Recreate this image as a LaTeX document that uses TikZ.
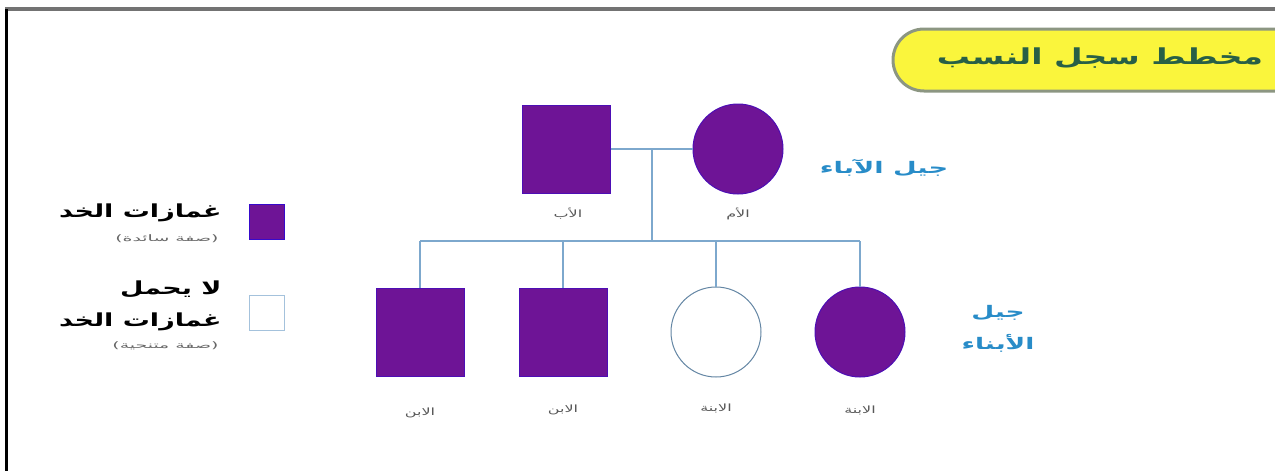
\documentclass[tikz,border=0pt]{standalone}
\usepackage{fontspec}
\TeXXeTstate=1
\newfontfamily\arabicfont[Script=Arabic]{DejaVu Sans}
\definecolor{purp}{RGB}{110,20,150}
\definecolor{linkc}{RGB}{125,168,205}
\definecolor{genblue}{RGB}{40,140,200}
\definecolor{titlegreen}{RGB}{40,95,70}
\definecolor{pillyellow}{RGB}{250,245,60}
\definecolor{pillborder}{RGB}{140,150,130}
\tikzset{
  aff/.style={draw=purp!70!blue, line width=1pt, fill=purp},
  unaff/.style={draw=linkc!80!black, line width=1pt, fill=white},
  sq/.style={rectangle, minimum size=88pt, inner sep=0pt},
  circ/.style={circle, minimum size=90pt, inner sep=0pt},
  link/.style={draw=linkc, line width=2pt},
  lab/.style={font=\arabicfont\fontsize{10}{12}\selectfont, text=black!65},
  gen/.style={font=\arabicfont\bfseries\fontsize{16}{18}\selectfont, text=genblue},
  legbig/.style={font=\arabicfont\bfseries\fontsize{18}{22}\selectfont, text=black, anchor=east},
  legsmall/.style={font=\arabicfont\fontsize{9}{10}\selectfont, text=black!60, anchor=east},
}
\begin{document}
\begin{tikzpicture}[x=1pt,y=-1pt]
\useasboundingbox (0,0) rectangle (1275,471);
% frame
\draw[draw=black!55, line width=4pt] (5,9) -- (1275,9);
\draw[draw=black, line width=3pt] (6.5,9) -- (6.5,471);
% title pill
\draw[draw=pillborder, line width=3pt, fill=pillyellow, rounded corners=31pt] (893,29) rectangle (1310,91);
\node[font=\arabicfont\bfseries\fontsize{22}{24}\selectfont, text=titlegreen] (title) at (1100,58) {\scalebox{1.5}[1]{\beginR مخطط سجل النسب\endR}};
% parents
\node[sq, aff] (father) at (566,149) {};
\node[circ, aff] (mother) at (738,149) {};
\node[lab] (flab) at (568,214) {\scalebox{1.6}[1]{\beginR الأب\endR}};
\node[lab] (mlab) at (738,214) {\scalebox{1.6}[1]{\beginR الأم\endR}};
% children
\node[sq, aff] (c1) at (420,332) {};
\node[sq, aff] (c2) at (563,332) {};
\node[circ, unaff] (c3) at (716,332) {};
\node[circ, aff] (c4) at (860,332) {};
\node[lab] (l1) at (420,413) {\scalebox{1.6}[1]{\beginR الابن\endR}};
\node[lab] (l2) at (563,410) {\scalebox{1.6}[1]{\beginR الابن\endR}};
\node[lab] (l3) at (716,408) {\scalebox{1.6}[1]{\beginR الابنة\endR}};
\node[lab] (l4) at (860,410) {\scalebox{1.6}[1]{\beginR الابنة\endR}};
% connectors
\coordinate (mid) at (652,149);
\coordinate (drop) at (652,241);
\coordinate (s1) at (420,241);
\coordinate (s2) at (563,241);
\coordinate (s3) at (716,241);
\coordinate (s4) at (860,241);
\draw[link] (father.east) -- (mother.west);
\draw[link] (mid) -- (drop);
\draw[link] (s1) -- (s4);
\draw[link] (s1) -- (c1.north);
\draw[link] (s2) -- (c2.north);
\draw[link] (s3) -- (c3.north);
\draw[link] (s4) -- (c4.north);
% generation labels
\node[gen] (pgen) at (884,168) {\scalebox{1.7}[1]{\beginR جيل الآباء\endR}};
\node[gen] (cgenA) at (998,313) {\scalebox{1.65}[1]{\beginR جيل\endR}};
\node[gen] (cgenB) at (998,343) {\scalebox{1.65}[1]{\beginR الأبناء\endR}};
% legend
\node[rectangle, minimum size=35pt, inner sep=0pt, draw=purp!50!blue, fill=purp] (legA) at (267,222) {};
\node[rectangle, minimum size=35pt, inner sep=0pt, draw=linkc!70, line width=1.5pt, fill=white] (legB) at (267,313) {};
\node[legbig] (tA) at (225,213) {\scalebox{1.5}[1]{\beginR غمازات الخد\endR}};
\node[legsmall] (sA) at (222,239) {\scalebox{2.1}[1]{\beginR (صفة سائدة)\endR}};
\node[legbig] (tB1) at (225,289) {\scalebox{1.5}[1]{\beginR لا يحمل\endR}};
\node[legbig] (tB2) at (225,322) {\scalebox{1.5}[1]{\beginR غمازات الخد\endR}};
\node[legsmall] (sB) at (222,346) {\scalebox{2.1}[1]{\beginR (صفة متنحية)\endR}};
\end{tikzpicture}
\end{document}
